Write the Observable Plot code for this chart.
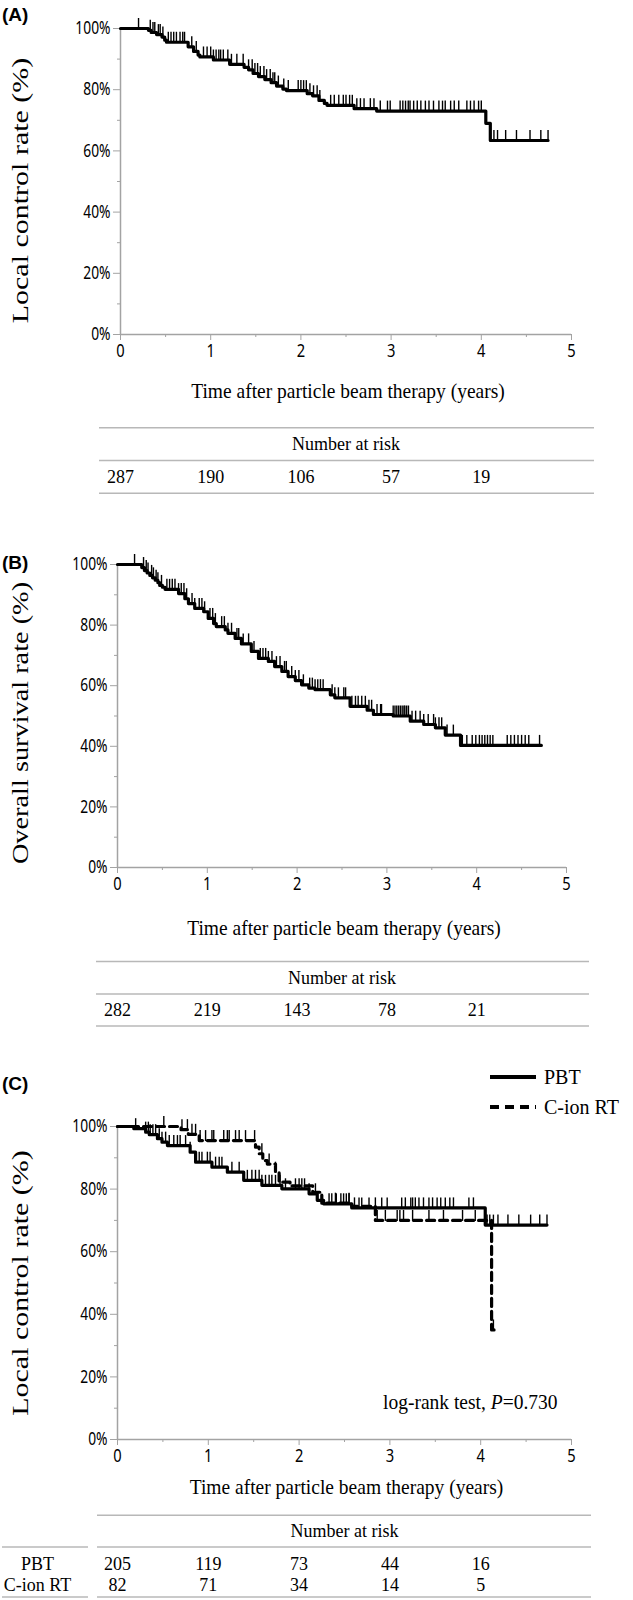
<!DOCTYPE html>
<html><head><meta charset="utf-8">
<script src="https://cdn.jsdelivr.net/npm/d3@7"></script>
<script src="https://cdn.jsdelivr.net/npm/@observablehq/plot@0.6"></script>
<style>
body{margin:0;background:#fff;}
#root{position:relative;width:633px;}
.panel{position:relative;width:633px;}
.panel svg{display:block;}
.plab{position:absolute;left:2px;font:bold 19px "Liberation Sans",Arial,sans-serif;line-height:1;}
.leg{position:absolute;font:20px "Liberation Serif","Times New Roman",serif;line-height:1;display:flex;align-items:center;height:24px;}
.leg svg{display:block;}
</style></head><body><div id="root"></div>
<script>
// ---------- data ----------
const timeTicks = [0, 1, 2, 3, 4, 5];
const timeMinor = [0.5, 1.5, 2.5, 3.5, 4.5];
const yMajor = [0, 0.2, 0.4, 0.6, 0.8, 1];
const yMinor = [0.1, 0.3, 0.5, 0.7, 0.9];
const riskTimes = [0, 1, 2, 3, 4];
const xTitle = "Time after particle beam therapy (years)";
const riskTitle = "Number at risk";

// (A) local control
const tA = [0, 0.31, 0.34, 0.40, 0.46, 0.49, 0.51, 0.75, 0.81, 0.86, 0.88, 1.03, 1.21, 1.37, 1.42, 1.47, 1.53, 1.60, 1.67, 1.73, 1.80, 1.84, 2.07, 2.13, 2.20, 2.26, 2.29, 2.59, 2.84, 4.05, 4.10];
const sA = [1, 0.994, 0.987, 0.980, 0.972, 0.962, 0.955, 0.940, 0.925, 0.913, 0.907, 0.897, 0.883, 0.873, 0.865, 0.853, 0.843, 0.833, 0.823, 0.812, 0.802, 0.797, 0.787, 0.780, 0.765, 0.755, 0.749, 0.738, 0.730, 0.690, 0.634];
const endA = 4.74;
const censA = [0.20, 0.33, 0.36, 0.38, 0.42, 0.44, 0.47, 0.53, 0.56, 0.59, 0.62, 0.66, 0.69, 0.71, 0.79, 0.84, 0.92, 0.96, 1.00, 1.03, 1.06, 1.09, 1.11, 1.14, 1.19, 1.23, 1.29, 1.36, 1.42, 1.46, 1.49, 1.52, 1.55, 1.59, 1.62, 1.66, 1.69, 1.71, 1.75, 1.81, 1.86, 1.97, 2.00, 2.03, 2.06, 2.10, 2.14, 2.18, 2.21, 2.33, 2.37, 2.42, 2.47, 2.50, 2.54, 2.57, 2.62, 2.66, 2.70, 2.77, 2.81, 2.88, 2.96, 2.99, 3.10, 3.13, 3.16, 3.19, 3.21, 3.25, 3.29, 3.33, 3.38, 3.42, 3.47, 3.53, 3.57, 3.60, 3.66, 3.70, 3.75, 3.84, 3.88, 3.92, 3.97, 4.00, 4.14, 4.18, 4.27, 4.39, 4.54, 4.66, 4.74];
const riskA = [287, 190, 106, 57, 19];
const yTitleA = "Local control rate (%)";

// (B) overall survival
const tB = [0, 0.27, 0.30, 0.33, 0.36, 0.39, 0.42, 0.45, 0.47, 0.50, 0.53, 0.68, 0.75, 0.79, 0.86, 0.96, 1.01, 1.07, 1.10, 1.20, 1.23, 1.31, 1.38, 1.49, 1.57, 1.68, 1.75, 1.83, 1.90, 1.98, 2.05, 2.13, 2.20, 2.37, 2.42, 2.59, 2.78, 2.85, 3.07, 3.26, 3.41, 3.54, 3.65, 3.82];
const sB = [1, 0.990, 0.980, 0.972, 0.964, 0.956, 0.948, 0.940, 0.931, 0.925, 0.918, 0.904, 0.887, 0.871, 0.855, 0.844, 0.822, 0.805, 0.795, 0.784, 0.773, 0.756, 0.738, 0.713, 0.690, 0.680, 0.663, 0.647, 0.630, 0.617, 0.603, 0.592, 0.587, 0.570, 0.560, 0.532, 0.519, 0.505, 0.500, 0.483, 0.472, 0.461, 0.437, 0.403];
const endB = 4.72;
const censB = [0.19, 0.29, 0.32, 0.34, 0.38, 0.40, 0.43, 0.45, 0.49, 0.55, 0.58, 0.61, 0.64, 0.68, 0.71, 0.74, 0.77, 0.83, 0.86, 0.91, 0.94, 0.97, 1.03, 1.06, 1.09, 1.16, 1.19, 1.23, 1.27, 1.33, 1.35, 1.40, 1.46, 1.52, 1.59, 1.62, 1.65, 1.68, 1.72, 1.77, 1.81, 1.86, 1.88, 1.94, 1.98, 2.02, 2.07, 2.14, 2.17, 2.20, 2.23, 2.26, 2.29, 2.39, 2.42, 2.46, 2.52, 2.54, 2.61, 2.65, 2.68, 2.72, 2.76, 2.80, 2.83, 2.89, 2.93, 2.94, 3.07, 3.09, 3.11, 3.13, 3.15, 3.17, 3.19, 3.20, 3.22, 3.24, 3.28, 3.32, 3.37, 3.41, 3.46, 3.52, 3.54, 3.58, 3.61, 3.67, 3.74, 3.84, 3.89, 3.95, 3.99, 4.03, 4.06, 4.09, 4.12, 4.15, 4.18, 4.34, 4.38, 4.42, 4.46, 4.50, 4.54, 4.58, 4.70];
const riskB = [282, 219, 143, 78, 21];
const yTitleB = "Overall survival rate (%)";

// (C) local control by modality
const groups = ["PBT", "C-ion RT"];
const tP = [0, 0.18, 0.31, 0.35, 0.44, 0.49, 0.55, 0.80, 0.86, 1.04, 1.21, 1.39, 1.59, 1.81, 2.11, 2.20, 2.27, 2.58, 4.05];
const sP = [1, 0.993, 0.982, 0.974, 0.961, 0.950, 0.939, 0.918, 0.886, 0.870, 0.854, 0.828, 0.812, 0.801, 0.785, 0.764, 0.753, 0.740, 0.685];
const endP = 4.73;
const censP = [0.20, 0.31, 0.34, 0.36, 0.39, 0.42, 0.46, 0.49, 0.53, 0.57, 0.62, 0.66, 0.69, 0.75, 0.80, 0.90, 0.93, 0.99, 1.02, 1.08, 1.12, 1.15, 1.26, 1.34, 1.43, 1.48, 1.52, 1.56, 1.59, 1.63, 1.67, 1.70, 1.74, 1.79, 1.85, 1.96, 2.00, 2.03, 2.06, 2.11, 2.18, 2.33, 2.36, 2.41, 2.46, 2.49, 2.52, 2.55, 2.61, 2.66, 2.69, 2.77, 2.84, 2.91, 2.97, 3.13, 3.17, 3.23, 3.25, 3.28, 3.32, 3.37, 3.43, 3.47, 3.52, 3.56, 3.61, 3.66, 3.70, 3.87, 3.92, 4.07, 4.10, 4.14, 4.19, 4.30, 4.42, 4.55, 4.65, 4.73];
const tC = [0, 0.70, 0.78, 0.90, 1.52, 1.56, 1.60, 1.65, 1.74, 1.78, 1.90, 2.15, 2.25, 2.58, 2.84, 4.12];
const sC = [1, 0.990, 0.975, 0.955, 0.934, 0.913, 0.891, 0.880, 0.854, 0.822, 0.810, 0.790, 0.755, 0.745, 0.700, 0.350];
const endC = 4.17;
const censC = [0.51, 0.71, 0.77, 0.82, 0.86, 0.91, 0.97, 1.04, 1.06, 1.17, 1.21, 1.23, 1.30, 1.34, 1.41, 1.51, 1.59, 1.67, 1.74, 2.40, 2.55, 2.86, 2.95, 3.08, 3.11, 3.15, 3.25, 3.43, 3.59, 3.80, 3.94, 4.14];
const riskP = [205, 119, 73, 44, 16];
const riskC = [82, 71, 34, 14, 5];
const yTitleC = "Local control rate (%)";
const logrank = "log-rank test, P=0.730";

// ---------- helpers ----------
const SERIF = "Liberation Serif, Times New Roman, serif";
const SANS = "Noto Sans, DejaVu Sans, sans-serif";
const GRAY = "#a3a3a3";
const LGRAY = "#b8b8b8";

function stepsTable(times, surv, end) {
  const d = times.map((t, i) => ({t, s: surv[i]}));
  d.push({t: end, s: surv[surv.length - 1]});
  return d;
}
function censorTable(times, stepT, stepS) {
  return times.map(t => {
    const i = Math.max(0, d3.bisectRight(stepT, t) - 1);
    return {t, s: stepS[i]};
  });
}

function axisMarks() {
  return [
    Plot.axisY({ticks: yMajor, tickSize: 7, tickPadding: 3, stroke: GRAY, fill: "black", tickFormat: d => Math.round(d * 100) + "%", label: null, fontSize: 15}),
    Plot.axisY({ticks: yMinor, tickSize: 3, stroke: GRAY, fill: "none", label: null}),
    Plot.axisX({ticks: timeTicks, tickSize: 6, tickPadding: 3, stroke: GRAY, fill: "black", tickFormat: d => String(d), label: null, fontSize: 16}),
    Plot.axisX({ticks: timeMinor, tickSize: 3, stroke: GRAY, fill: "none", label: null}),
    Plot.ruleX([0], {stroke: GRAY, strokeWidth: 1.5}),
    Plot.ruleY([0], {stroke: GRAY, strokeWidth: 1.5})
  ];
}

const T = {fontFamily: SERIF, fill: "black", lineAnchor: "middle", textAnchor: "middle"};

function panel(cfg) {
  const marks = [
    ...axisMarks(),
    Plot.text([cfg.yTitle], {...T, text: d => d, frameAnchor: "left", dx: 20 - cfg.marginLeft, dy: cfg.yTitleDy, rotate: -90, fontSize: 24}),
    Plot.text([xTitle], {...T, text: d => d, frameAnchor: "bottom", dx: 2, dy: cfg.titleDy, fontSize: 19.5}),
    Plot.text([riskTitle], {...T, text: d => d, frameAnchor: "bottom", dy: cfg.narDy, fontSize: 18}),
    ...cfg.ruleDys.map(dy => Plot.ruleY([0], {dy, insetLeft: cfg.ruleInset[0], insetRight: cfg.ruleInset[1], stroke: LGRAY, strokeWidth: 1.5})),
    ...cfg.marks
  ];
  const svg = Plot.plot({
    width: 633,
    height: cfg.height,
    marginTop: cfg.marginTop,
    marginBottom: cfg.marginBottom,
    marginLeft: cfg.marginLeft,
    marginRight: cfg.marginRight,
    x: {domain: [0, 5], label: null},
    y: {domain: [0, 1], label: null},
    style: {fontFamily: SANS, fontSize: "15px", color: "black", background: "white", overflow: "visible"},
    marks
  });
  stretchTexts(svg, cfg.yStretch);
  return svg;
}

// the reference's lettering is slightly condensed / elongated
function stretchTexts(svg, yStretch) {
  d3.select(svg).selectAll("text").each(function () {
    const tr = this.getAttribute("transform") || "";
    const g = this.parentNode;
    const lab = g && g.getAttribute ? (g.getAttribute("aria-label") || "") : "";
    if (/rotate/.test(tr)) this.setAttribute("transform", tr + ` scale(${yStretch},1)`);
    else if (/tick label/.test(lab)) this.setAttribute("transform", tr + " scale(0.92,1.18)");
    else this.setAttribute("transform", tr + " scale(1,1.1)");
  });
}

function kmMarks(steps, cens, dash) {
  return [
    Plot.line(steps, {x: "t", y: "s", curve: "step-after", stroke: "black", strokeWidth: 3.2, strokeDasharray: dash || null}),
    Plot.ruleX(cens, {x: "t", y1: "s", y2: "s", insetTop: -10, insetBottom: -1, stroke: "black", strokeWidth: 1.4})
  ];
}

function riskRow(values, dy) {
  return Plot.text(values, {...T, x: (d, i) => riskTimes[i], text: d => String(d), frameAnchor: "bottom", dy, fontSize: 18});
}

const root = document.getElementById("root");
function addPanel(svg, label, labelTop, height) {
  const div = document.createElement("div");
  div.className = "panel";
  div.style.height = height + "px";
  div.appendChild(svg);
  const lab = document.createElement("div");
  lab.className = "plab";
  lab.style.top = labelTop + "px";
  lab.textContent = label;
  div.appendChild(lab);
  root.appendChild(div);
  return div;
}

// Panel A
const svgA = panel({
  height: 530, marginTop: 28, marginBottom: 196, marginLeft: 120, marginRight: 62,
  yTitle: yTitleA, yTitleDy: 9, yStretch: 1.25, titleDy: 57, narDy: 109, ruleDys: [93.3, 126, 158.7], ruleInset: [-21, -23],
  marks: [...kmMarks(stepsTable(tA, sA, endA), censorTable(censA, tA, sA)), riskRow(riskA, 142)]
});
addPanel(svgA, "(A)", 5, 530);

// Panel B
const svgB = panel({
  height: 520, marginTop: 34, marginBottom: 183, marginLeft: 117, marginRight: 67,
  yTitle: yTitleB, yTitleDy: 7, yStretch: 1.18, titleDy: 61, narDy: 110, ruleDys: [94, 126.6, 158.6], ruleInset: [-21, -23],
  marks: [...kmMarks(stepsTable(tB, sB, endB), censorTable(censB, tB, sB)), riskRow(riskB, 142.6)]
});
addPanel(svgB, "(B)", 23, 520);

// Panel C
const svgC = panel({
  height: 550, marginTop: 76, marginBottom: 161, marginLeft: 117, marginRight: 62,
  yTitle: yTitleC, yTitleDy: 0, yStretch: 1.25, titleDy: 48, narDy: 90.7, ruleDys: [75.7, 107.4, 157.4], ruleInset: [-20, -20],
  marks: [
    ...kmMarks(stepsTable(tP, sP, endP), censorTable(censP, tP, sP)),
    ...kmMarks(stepsTable(tC, sC, endC), censorTable(censC, tC, sC), "8,5"),
    riskRow(riskP, 124),
    riskRow(riskC, 144.7),
    Plot.text([groups[0]], {...T, text: d => d, frameAnchor: "bottom-left", dx: -80, dy: 124, fontSize: 18}),
    Plot.text([groups[1]], {...T, text: d => d, frameAnchor: "bottom-left", dx: -80, dy: 144.7, fontSize: 18}),
    Plot.ruleY([0], {dy: 107.4, insetLeft: -115, insetRight: 483, stroke: LGRAY, strokeWidth: 1.5}),
    Plot.ruleY([0], {dy: 157.4, insetLeft: -115, insetRight: 483, stroke: LGRAY, strokeWidth: 1.5}),
    Plot.text([logrank], {...T, text: d => d, frameAnchor: "bottom-right", dx: -14, dy: -37.6, textAnchor: "end", fontSize: 19.5})
  ]
});
// italic P in the log-rank annotation
d3.select(svgC).selectAll("text").filter(function () { return this.textContent === logrank; }).each(function () {
  const t = d3.select(this);
  t.text(null);
  t.append("tspan").text("log-rank test, ");
  t.append("tspan").attr("font-style", "italic").text("P");
  t.append("tspan").text("=0.730");
});
const divC = addPanel(svgC, "(C)", 24, 550);

// legend for panel C
const legendDash = [null, "9,6"];
const legendTop = [14.7, 45];
groups.forEach((g, i) => {
  const item = document.createElement("div");
  item.className = "leg";
  item.style.left = "490px";
  item.style.top = legendTop[i] + "px";
  const ns = "http://www.w3.org/2000/svg";
  const s = document.createElementNS(ns, "svg");
  s.setAttribute("width", "46"); s.setAttribute("height", "24");
  const ln = document.createElementNS(ns, "line");
  ln.setAttribute("x1", "0"); ln.setAttribute("x2", "46");
  ln.setAttribute("y1", "12"); ln.setAttribute("y2", "12");
  ln.setAttribute("stroke", "black"); ln.setAttribute("stroke-width", "4");
  if (legendDash[i]) ln.setAttribute("stroke-dasharray", legendDash[i]);
  s.appendChild(ln);
  item.appendChild(s);
  const sp = document.createElement("span");
  sp.style.marginLeft = "8px";
  sp.textContent = g;
  item.appendChild(sp);
  divC.appendChild(item);
});
</script></body></html>
